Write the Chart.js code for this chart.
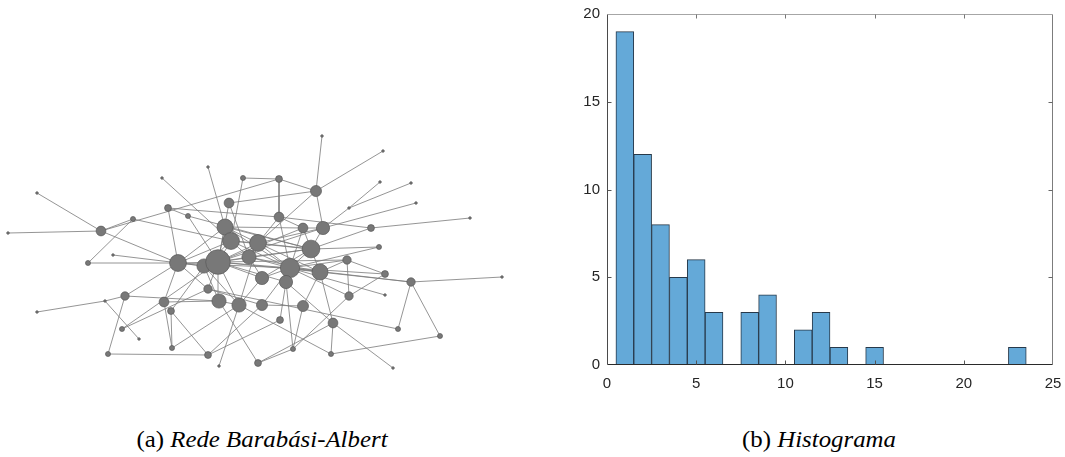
<!DOCTYPE html>
<html>
<head>
<meta charset="utf-8">
<script src="https://cdn.jsdelivr.net/npm/chart.js@4.4.1/dist/chart.umd.min.js"></script>
<style>
  html, body { margin: 0; padding: 0; background: #fff; }
  #wrap { position: relative; width: 1065px; height: 457px; overflow: hidden; background: #fff; }
  #net { position: absolute; left: 0; top: 0; }
  #hist { position: absolute; left: 540px; top: 0; }
  .cap {
    position: absolute; top: 429px;
    font-family: "Liberation Serif", "Times New Roman", serif;
    font-size: 23px; line-height: 22px; color: #000; white-space: nowrap;
    transform: translateX(-50%) scaleX(1.08);
  }
</style>
</head>
<body>
<div id="wrap">
  <canvas id="net" width="530" height="410"></canvas>
  <canvas id="hist" width="525" height="410"></canvas>
  <div class="cap" style="left:262px">(a) <i>Rede Barabási-Albert</i></div>
  <div class="cap" style="left:819px">(b) <i>Histograma</i></div>
</div>
<script>
// ---- Barabási-Albert network: layout coordinates of the 68 nodes ----
const nodeX = [-4.7, -9.3, -1.2, -21.8, -2.6, -8.7, -6.7, -12.2, -15.4, -24.7,
  -3.0, -2.4, 0.3, -14.2, -16.7, -7.7, -5.1, -3.7, -0.6, 6.7,
  12.8, 2.4, 6.1, 12.5, 15.6, 9.4, 16.1, 2.4, 4.8, 6.8,
  11.6, 21.5, 5.6, 12.4, 3.5, 6.5, 9.2, 13.0, 15.6, 24.7,
  0.7, 3.1, 9.4, 13.0, 0.7, 4.8, 2.5, 7.8, 14.3, 18.5,
  3.8, 7.6, 0.3, 13.8, -4.7, -13.0, -15.0, -21.8, -9.1, -3.6,
  -1.6, -8.4, -13.3, -11.6, -8.3, -14.7, -4.7, -3.6];
const nodeY = [8.8, 7.7, 7.7, 6.2, 5.2, 4.7, 3.9, 3.6, 2.4, 2.2,
  2.8, 1.4, 1.2, 0.0, -0.8, -0.8, -1.1, -0.7, -0.2, 11.9,
  10.4, 7.6, 6.4, 7.3, 7.2, 4.7, 5.2, 3.8, 2.7, 2.7,
  2.7, 3.7, 0.6, 0.8, -1.3, -1.7, -0.5, -1.9, -2.7, -2.2,
  -2.3, -2.7, -4.1, -4.0, -5.0, -5.1, -6.5, -6.8, -7.4, -8.1,
  -9.4, -9.9, -10.8, -11.3, -3.4, -4.1, -4.6, -5.7, -4.7, -4.6,
  -5.0, -5.6, -7.4, -8.4, -9.3, -9.9, -10.0, -11.1];
// degree of each node (marker size follows it)
const nodeDegree = [1, 1, 2, 1, 5, 3, 2, 2, 5, 1,
  11, 12, 12, 1, 2, 12, 9, 23, 9, 1,
  1, 3, 6, 1, 1, 1, 1, 5, 5, 8,
  3, 1, 13, 2, 15, 11, 4, 3, 4, 1,
  8, 8, 4, 1, 6, 6, 3, 5, 2, 2,
  2, 2, 3, 1, 4, 4, 1, 1, 5, 9,
  9, 3, 2, 1, 2, 2, 3, 1];
// links between nodes (pairs of node indices)
const edges = [
  [0,10],[1,11],[3,8],[9,8],[13,16],[19,22],[23,25],[25,29],[24,25],[26,29],
  [31,30],[39,38],[43,34],[53,47],[57,56],[56,55],[63,56],[67,60],[20,22],
  [2,21],[2,11],[4,22],[4,18],[4,17],[5,15],[5,6],[5,27],[6,17],[6,32],
  [7,8],[7,14],[7,11],[8,21],[8,15],[14,15],
  [21,27],[21,22],[22,29],[22,12],[27,28],[27,12],[27,34],[30,32],[30,27],[33,32],[33,34],
  [36,35],[36,34],[36,42],[36,37],[37,34],[37,42],[38,48],[38,49],[38,35],[38,34],
  [48,54],[49,51],[42,34],
  [45,44],[45,35],[45,50],[46,41],[46,66],[47,51],[47,35],[47,41],[50,52],[50,41],
  [50,42],[51,60],[52,59],[52,47],
  [65,66],[65,55],[55,59],[55,15],[62,54],[62,17],[64,61],[64,60],[66,61],[66,44],
  [58,59],[58,15],[58,64],[61,16],
  [54,17],[54,44],[59,60],[59,17],[59,16],[60,17],[60,40],[60,12],[44,34],
  [40,17],[40,34],[40,32],[41,34],
  [17,15],[17,16],[17,18],[17,11],[17,10],[17,12],[17,34],[17,32],[17,35],
  [17,28],[17,36],[17,41],[17,29],
  [34,12],[34,32],[34,35],[34,18],[34,11],[34,10],[34,28],[34,15],
  [32,12],[32,29],[32,28],[32,18],[32,11],[32,35],[32,10],
  [10,11],[10,12],[10,15],[10,28],[11,12],[11,18],[12,18],[15,16],[15,11],
  [16,11],[18,35],[35,12],[29,12],[28,29],[16,60],[15,54],[18,40]
];

// ---- Degree histogram ----
const binCenters = [1, 2, 3, 4, 5, 6, 7, 8, 9, 10, 11, 12, 13, 14, 15, 16, 17, 18, 19, 20, 21, 22, 23];
const binCounts  = [19, 12, 8, 5, 6, 3, 0, 3, 4, 0, 2, 3, 1, 0, 1, 0, 0, 0, 0, 0, 0, 0, 1];
const xTicks = [0, 5, 10, 15, 20, 25];
const yTicks = [0, 5, 10, 15, 20];

// marker radius grows with the square root of the degree
const markerRadius = d => Math.max(1.3, 2.9 * Math.sqrt(d) - 1.6);

const edgeSets = edges.map(([a, b]) => ({
  type: 'line',
  data: [{ x: nodeX[a], y: nodeY[a] }, { x: nodeX[b], y: nodeY[b] }],
  borderColor: '#7a7a7a',
  borderWidth: 0.8,
  pointRadius: 0,
  fill: false,
  order: 1
}));

const nodeSet = {
  type: 'bubble',
  data: nodeX.map((x, i) => ({ x: x, y: nodeY[i], r: markerRadius(nodeDegree[i]) })),
  backgroundColor: '#787878',
  borderColor: '#595959',
  borderWidth: 0.7,
  clip: false,
  order: 0
};

new Chart(document.getElementById('net'), {
  type: 'scatter',
  data: { datasets: [nodeSet, ...edgeSets] },
  options: {
    responsive: false,
    devicePixelRatio: 1,
    animation: false,
    events: [],
    layout: { padding: 0, autoPadding: false },
    plugins: { legend: { display: false }, tooltip: { enabled: false } },
    scales: {
      x: { type: 'linear', min: -25.5, max: 27.5, display: false },
      y: { type: 'linear', min: -15.5, max: 25.5, display: false }
    }
  }
});

// Box and inward tick marks drawn around the histogram plot area
const framePlugin = {
  id: 'frame',
  afterDatasetsDraw(chart) {
    const { ctx, chartArea: a, scales } = chart;
    const L = Math.round(a.left) + 0.5, R = Math.round(a.right) - 0.5;
    const T = Math.round(a.top) + 0.5, B = Math.round(a.bottom) - 0.5;
    const seg = (x1, y1, x2, y2, c) => {
      ctx.strokeStyle = c; ctx.beginPath(); ctx.moveTo(x1, y1); ctx.lineTo(x2, y2); ctx.stroke();
    };
    ctx.save();
    ctx.lineWidth = 1;
    seg(L, T, R, T, '#a6a6a6');
    seg(R, T, R, B, '#7c7c7c');
    seg(L, T, L, B, '#4a4a4a');
    seg(L, B, R, B, '#2a2a2a');
    const tl = 4;
    xTicks.forEach(v => {
      const px = Math.round(scales.x.getPixelForValue(v)) + 0.5;
      if (px <= L + 1 || px >= R - 1) return;
      seg(px, B, px, B - tl, '#555');
      seg(px, T, px, T + tl, '#777');
    });
    yTicks.forEach(v => {
      const py = Math.round(scales.y.getPixelForValue(v)) + 0.5;
      if (py <= T + 1 || py >= B - 1) return;
      seg(L, py, L + tl, py, '#555');
      seg(R, py, R - tl, py, '#666');
    });
    ctx.restore();
  }
};

const tickFont = { family: '"Liberation Sans", Arial, Helvetica, sans-serif', size: 15 };

new Chart(document.getElementById('hist'), {
  type: 'bar',
  data: {
    datasets: [{
      data: binCenters.map((c, i) => ({ x: c, y: binCounts[i] })),
      backgroundColor: '#64a9d8',
      borderColor: '#27394a',
      borderWidth: 1,
      borderSkipped: 'start',
      barPercentage: 1,
      categoryPercentage: 1
    }]
  },
  options: {
    responsive: false,
    devicePixelRatio: 1,
    animation: false,
    events: [],
    layout: { padding: { left: 10, right: 12, top: 14, bottom: 10 }, autoPadding: false },
    plugins: { legend: { display: false }, tooltip: { enabled: false } },
    scales: {
      x: {
        type: 'linear', min: 0, max: 25, offset: false,
        grid: { display: false, drawTicks: false, offset: false },
        border: { display: false },
        afterBuildTicks: s => { s.ticks = xTicks.map(v => ({ value: v })); },
        afterFit: s => { s.height = 35; s.paddingLeft = 0; s.paddingRight = 0; },
        ticks: { color: '#262626', font: tickFont, padding: 10, maxRotation: 0 }
      },
      y: {
        type: 'linear', min: 0, max: 20,
        grid: { display: false, drawTicks: false },
        border: { display: false },
        afterBuildTicks: s => { s.ticks = yTicks.map(v => ({ value: v })); },
        afterFit: s => { s.width = 57; s.paddingTop = 0; s.paddingBottom = 0; },
        ticks: { color: '#262626', font: tickFont, padding: 7 }
      }
    }
  },
  plugins: [framePlugin]
});
</script>
</body>
</html>
